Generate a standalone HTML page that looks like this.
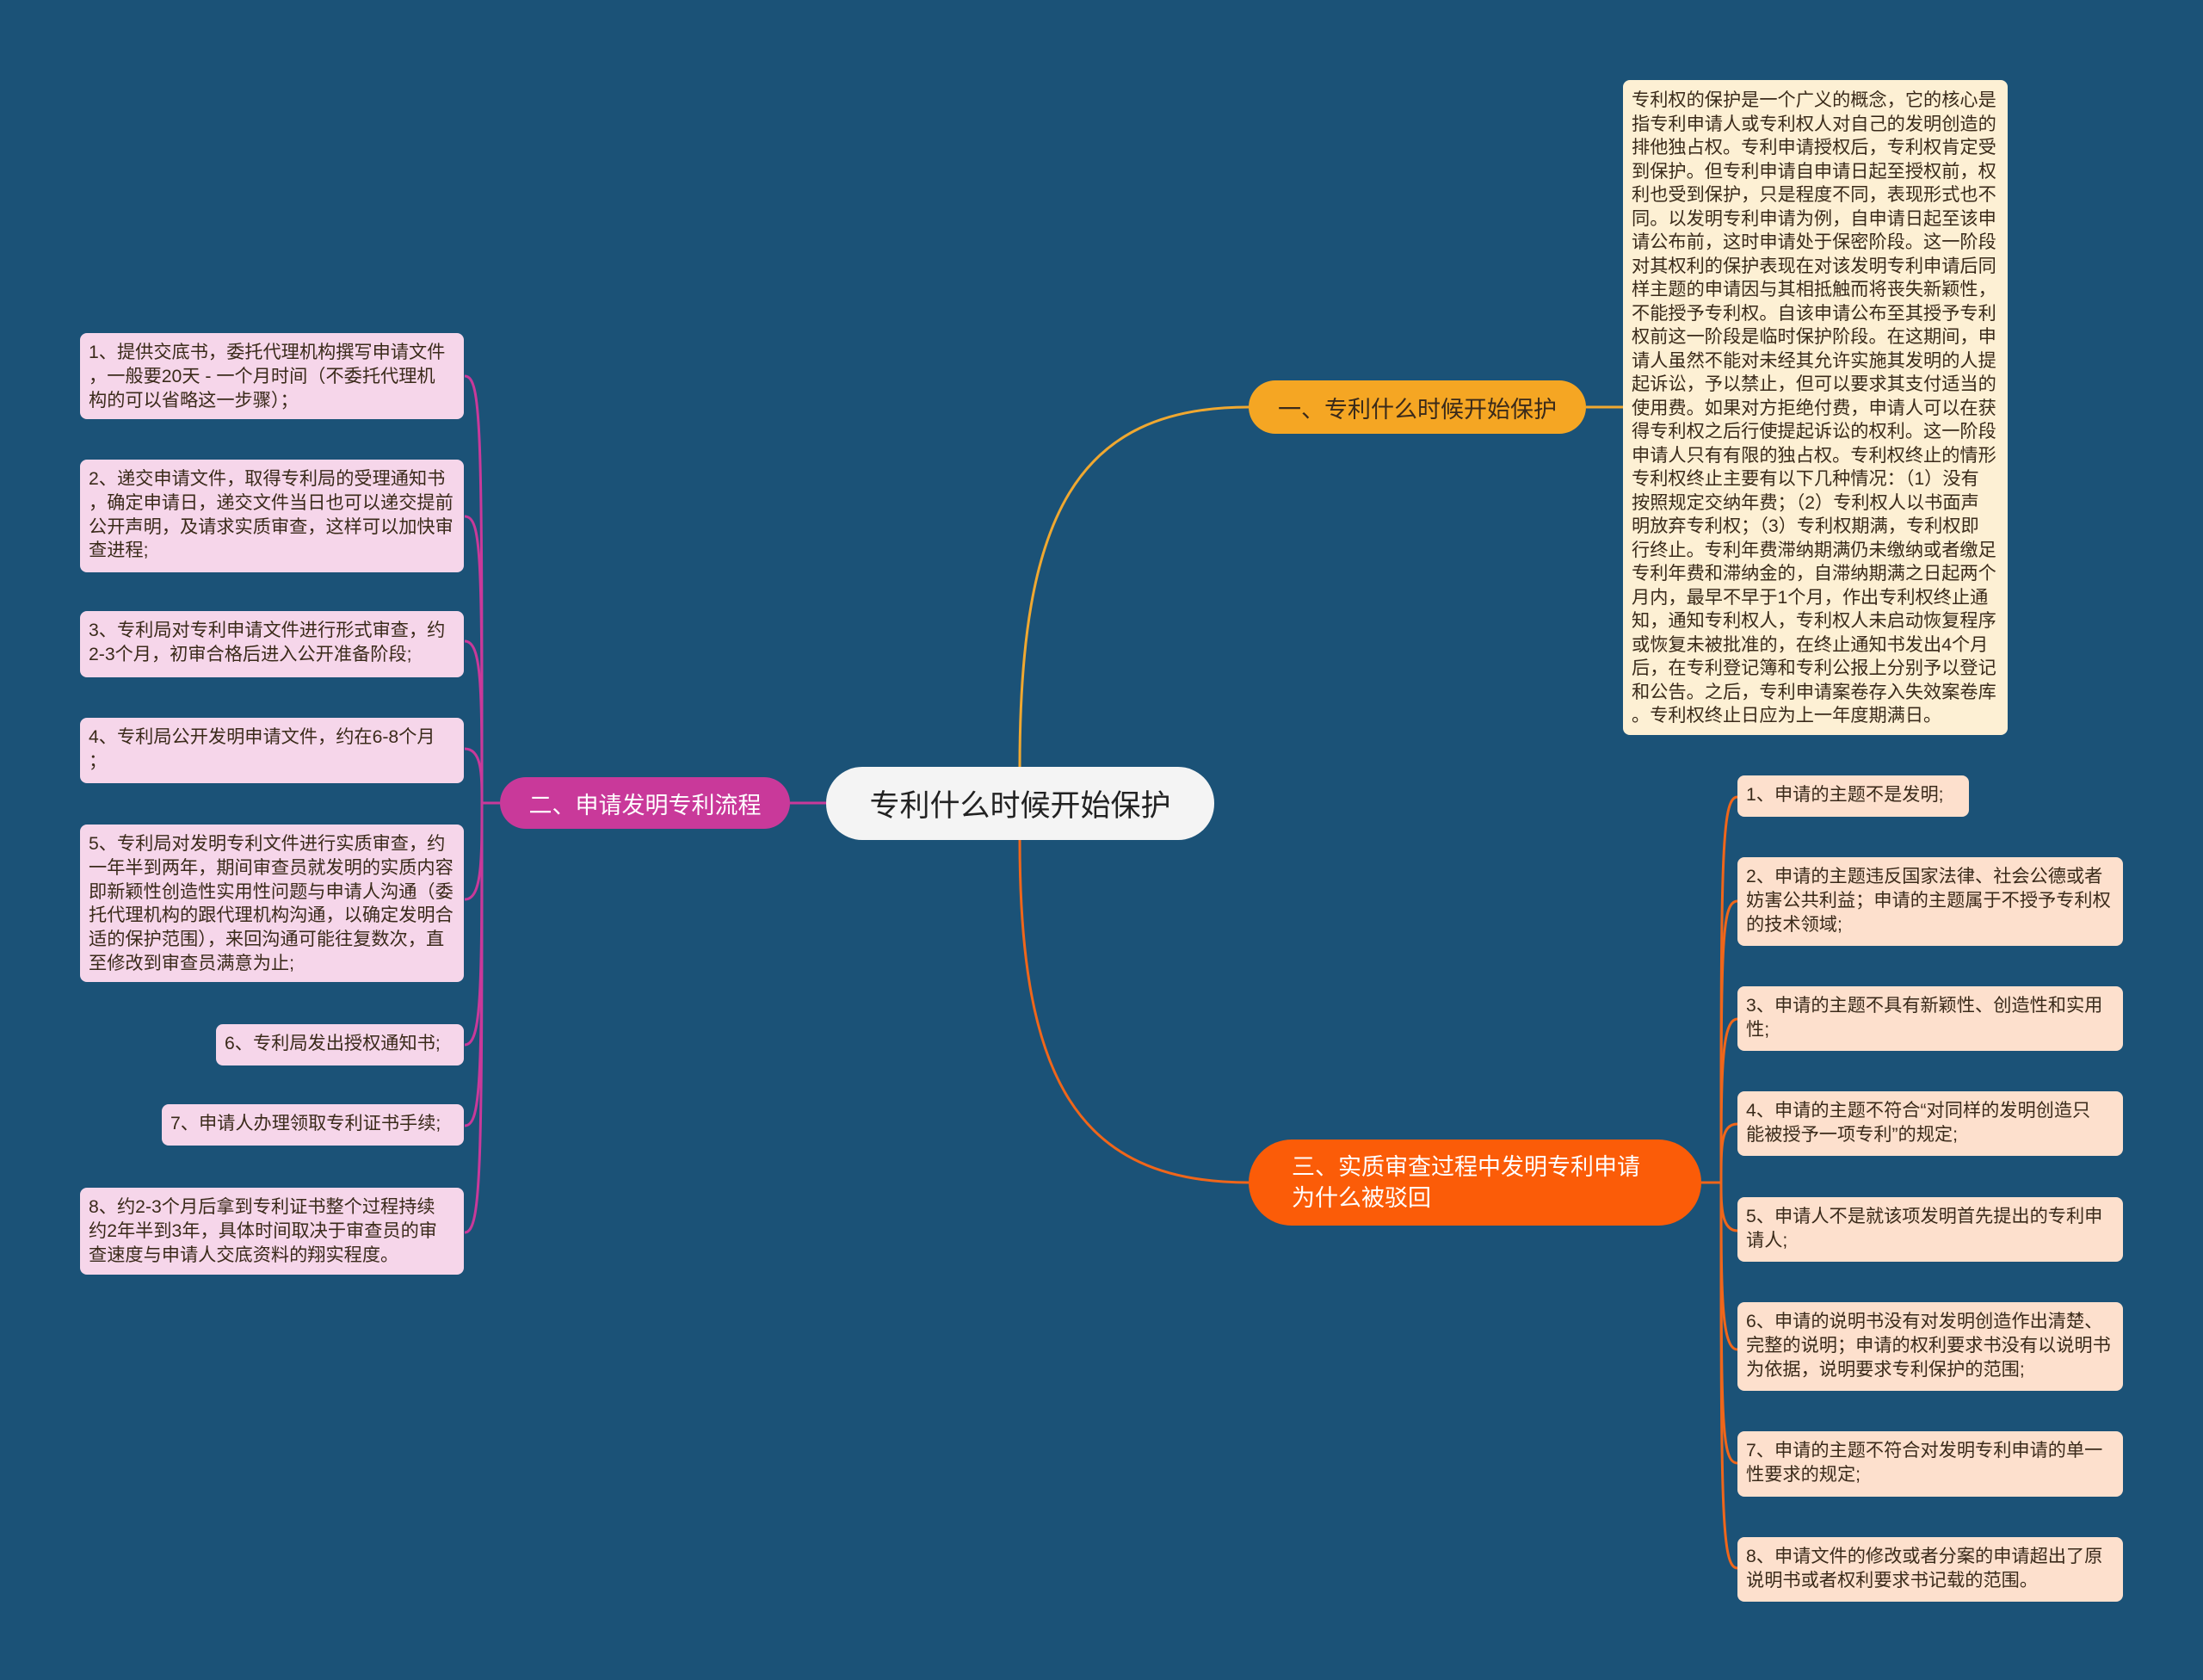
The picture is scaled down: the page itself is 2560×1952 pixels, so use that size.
<!DOCTYPE html>
<html><head><meta charset="utf-8"><style>
body{margin:0;width:2560px;height:1952px;background:#1b5277;position:relative;overflow:hidden;font-family:"Liberation Sans","Noto Sans CJK SC",sans-serif}
.b{position:absolute;box-sizing:border-box;border-radius:8px;color:#3a2a1a;font-size:21.2px;line-height:27.8px;padding:9px 10px;white-space:nowrap}
.l{background:#f6d6ea}
.r{background:#fde0cd}
.n{position:absolute;box-sizing:border-box;display:flex;align-items:center;color:#fff}
svg{position:absolute;left:0;top:0}
</style></head><body>
<svg width="2560" height="1952" fill="none" stroke-width="3">
<path d="M1185 891 C1185 600,1250 473,1451 473" stroke="#f0a830"/>
<path d="M1843 473 L1886 473" stroke="#f0a830"/>
<path d="M1185 976 C1185 1250,1250 1374,1451 1374" stroke="#f0661a"/>
<path d="M960 933 L918 933" stroke="#c9399a"/>
<g stroke="#c9399a">
<path d="M581 933 L560 933"/>
<path d="M560 933 C560 500,560 437,540 437"/>
<path d="M560 933 C560 650,560 600,540 600"/>
<path d="M560 933 C560 800,560 745,540 745"/>
<path d="M560 933 C560 900,560 870,540 870"/>
<path d="M560 933 C560 1000,560 1045,540 1045"/>
<path d="M560 933 C560 1150,560 1214,540 1214"/>
<path d="M560 933 C560 1250,560 1308,540 1308"/>
<path d="M560 933 C560 1350,560 1432,540 1432"/>
</g>
<g stroke="#f0661a">
<path d="M1977 1374 L2000 1374"/>
<path d="M2000 1374 C2000 1000,2000 926,2019 926"/>
<path d="M2000 1374 C2000 1100,2000 1047,2019 1047"/>
<path d="M2000 1374 C2000 1250,2000 1184,2019 1184"/>
<path d="M2000 1374 C2000 1330,2000 1306,2019 1306"/>
<path d="M2000 1374 C2000 1400,2000 1430,2019 1430"/>
<path d="M2000 1374 C2000 1500,2000 1568,2019 1568"/>
<path d="M2000 1374 C2000 1650,2000 1700,2019 1700"/>
<path d="M2000 1374 C2000 1750,2000 1822,2019 1822"/>
</g>
</svg>
<div class="n" style="left:960px;top:891px;width:451px;height:85px;background:#f4f4f4;border-radius:42px;color:#222;font-size:35px;justify-content:center">专利什么时候开始保护</div>
<div class="n" style="left:581px;top:903px;width:337px;height:60px;background:#c9399a;border-radius:30px;font-size:27px;justify-content:center">二、申请发明专利流程</div>
<div class="n" style="left:1451px;top:442px;width:392px;height:62px;background:#f5a623;border-radius:31px;font-size:27px;justify-content:center;color:#3a2a1a">一、专利什么时候开始保护</div>
<div class="n" style="left:1451px;top:1324px;width:526px;height:100px;background:#fb5c08;border-radius:50px;font-size:27px;line-height:36px;padding-left:50px">三、实质审查过程中发明专利申请<br>为什么被驳回</div>
<div class="b" style="left:1886px;top:93px;width:447px;height:761px;background:#fdf0d4;line-height:27.5px;padding:10px 10px">专利权的保护是一个广义的概念，它的核心是<br>指专利申请人或专利权人对自己的发明创造的<br>排他独占权。专利申请授权后，专利权肯定受<br>到保护。但专利申请自申请日起至授权前，权<br>利也受到保护，只是程度不同，表现形式也不<br>同。以发明专利申请为例，自申请日起至该申<br>请公布前，这时申请处于保密阶段。这一阶段<br>对其权利的保护表现在对该发明专利申请后同<br>样主题的申请因与其相抵触而将丧失新颖性，<br>不能授予专利权。自该申请公布至其授予专利<br>权前这一阶段是临时保护阶段。在这期间，申<br>请人虽然不能对未经其允许实施其发明的人提<br>起诉讼，予以禁止，但可以要求其支付适当的<br>使用费。如果对方拒绝付费，申请人可以在获<br>得专利权之后行使提起诉讼的权利。这一阶段<br>申请人只有有限的独占权。专利权终止的情形<br>专利权终止主要有以下几种情况：（1）没有<br>按照规定交纳年费；（2）专利权人以书面声<br>明放弃专利权；（3）专利权期满，专利权即<br>行终止。专利年费滞纳期满仍未缴纳或者缴足<br>专利年费和滞纳金的，自滞纳期满之日起两个<br>月内，最早不早于1个月，作出专利权终止通<br>知，通知专利权人，专利权人未启动恢复程序<br>或恢复未被批准的，在终止通知书发出4个月<br>后，在专利登记簿和专利公报上分别予以登记<br>和公告。之后，专利申请案卷存入失效案卷库<br>。专利权终止日应为上一年度期满日。</div>
<div class="b l" style="left:93px;top:387px;width:446px;height:100px">1、提供交底书，委托代理机构撰写申请文件<br>，一般要20天 - 一个月时间（不委托代理机<br>构的可以省略这一步骤）；</div>
<div class="b l" style="left:93px;top:534px;width:446px;height:131px">2、递交申请文件，取得专利局的受理通知书<br>，确定申请日，递交文件当日也可以递交提前<br>公开声明，及请求实质审查，这样可以加快审<br>查进程;</div>
<div class="b l" style="left:93px;top:710px;width:446px;height:77px">3、专利局对专利申请文件进行形式审查，约<br>2-3个月，初审合格后进入公开准备阶段;</div>
<div class="b l" style="left:93px;top:834px;width:446px;height:76px">4、专利局公开发明申请文件，约在6-8个月<br>；</div>
<div class="b l" style="left:93px;top:958px;width:446px;height:183px">5、专利局对发明专利文件进行实质审查，约<br>一年半到两年，期间审查员就发明的实质内容<br>即新颖性创造性实用性问题与申请人沟通（委<br>托代理机构的跟代理机构沟通，以确定发明合<br>适的保护范围），来回沟通可能往复数次，直<br>至修改到审查员满意为止;</div>
<div class="b l" style="left:251px;top:1190px;width:288px;height:48px">6、专利局发出授权通知书;</div>
<div class="b l" style="left:188px;top:1283px;width:351px;height:48px">7、申请人办理领取专利证书手续;</div>
<div class="b l" style="left:93px;top:1380px;width:446px;height:101px">8、约2-3个月后拿到专利证书整个过程持续<br>约2年半到3年，具体时间取决于审查员的审<br>查速度与申请人交底资料的翔实程度。</div>
<div class="b r" style="left:2019px;top:901px;width:269px;height:48px">1、申请的主题不是发明;</div>
<div class="b r" style="left:2019px;top:996px;width:448px;height:103px">2、申请的主题违反国家法律、社会公德或者<br>妨害公共利益；申请的主题属于不授予专利权<br>的技术领域;</div>
<div class="b r" style="left:2019px;top:1146px;width:448px;height:75px">3、申请的主题不具有新颖性、创造性和实用<br>性;</div>
<div class="b r" style="left:2019px;top:1268px;width:448px;height:75px">4、申请的主题不符合“对同样的发明创造只<br>能被授予一项专利”的规定;</div>
<div class="b r" style="left:2019px;top:1391px;width:448px;height:75px">5、申请人不是就该项发明首先提出的专利申<br>请人;</div>
<div class="b r" style="left:2019px;top:1513px;width:448px;height:103px">6、申请的说明书没有对发明创造作出清楚、<br>完整的说明；申请的权利要求书没有以说明书<br>为依据，说明要求专利保护的范围;</div>
<div class="b r" style="left:2019px;top:1663px;width:448px;height:76px">7、申请的主题不符合对发明专利申请的单一<br>性要求的规定;</div>
<div class="b r" style="left:2019px;top:1786px;width:448px;height:75px">8、申请文件的修改或者分案的申请超出了原<br>说明书或者权利要求书记载的范围。</div>
</body></html>
